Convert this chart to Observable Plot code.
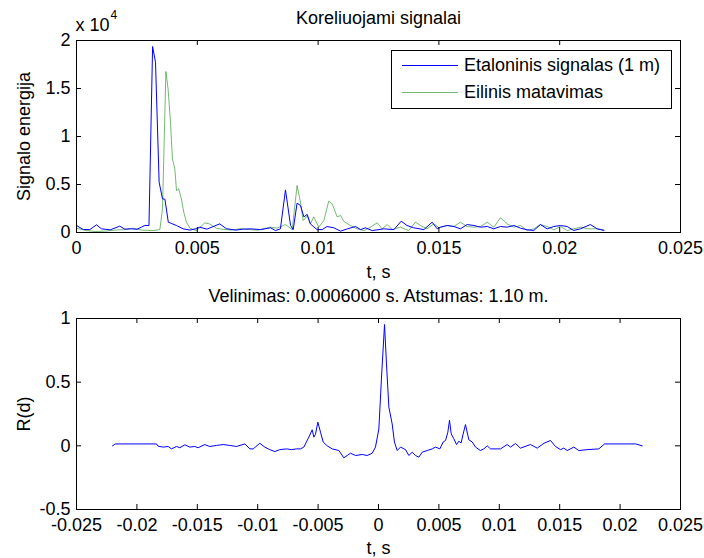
<!DOCTYPE html>
<html><head><meta charset="utf-8">
<script src="https://cdn.jsdelivr.net/npm/d3@7"></script>
<script src="https://cdn.jsdelivr.net/npm/@observablehq/plot@0.6"></script>
<style>
body{margin:0;background:#fff;}
#fig{position:relative;width:704px;height:558px;background:#fff;font-family:"Liberation Sans",Arial,Helvetica,sans-serif;color:#000;}
#fig svg{position:absolute;left:0;overflow:visible;}
#legend{position:absolute;left:391px;top:50px;width:279px;height:57px;border:1px solid #000;background:#fff;font-size:18px;}
.row{position:absolute;left:0;height:22px;display:flex;align-items:center;white-space:nowrap;}
.sw{width:56px;height:0;margin-left:10px;margin-right:6px;border-top:1px solid;}
</style></head>
<body><div id="fig"></div>
<script>
// ---- top chart data ----
const topTitle = "Koreliuojami signalai";
const topYLabel = "Signalo energija";
const xLabelText = "t, s";
const seriesNames = ["Etaloninis signalas (1 m)", "Eilinis matavimas"];
const topXTicks = [0, 0.005, 0.01, 0.015, 0.02, 0.025];
const topXTickLabels = ["0", "0.005", "0.01", "0.015", "0.02", "0.025"];
const topYTicks = [0, 5000, 10000, 15000, 20000];
const topYTickLabels = ["0", "0.5", "1", "1.5", "2"];

const blueT = [0,0.00028,0.00055,0.00083,0.00103,0.0014,0.00179,0.002,0.00228,0.0025,0.00269,0.00283,0.003,0.00315,0.00327,0.00342,0.00356,0.00366,0.0038,0.00394,0.00414,0.00441,0.0047,0.00496,0.0051,0.0054,0.00593,0.0062,0.0066,0.0069,0.0072,0.00762,0.00803,0.00824,0.00844,0.00865,0.00886,0.00897,0.00913,0.00927,0.00941,0.00955,0.00968,0.00982,0.00996,0.01017,0.01037,0.01065,0.01093,0.01121,0.01155,0.01176,0.01196,0.01224,0.01272,0.01314,0.01344,0.01368,0.01396,0.01438,0.01472,0.01493,0.01507,0.01534,0.01562,0.01589,0.01617,0.01645,0.01672,0.017,0.01727,0.01755,0.01783,0.0181,0.01838,0.01865,0.01893,0.0192,0.01948,0.01976,0.02003,0.02031,0.02058,0.02086,0.02127,0.02155,0.02183];
const blueV = [730,310,300,800,385,280,660,350,385,330,560,730,730,19375,17740,5240,3510,3470,1075,930,730,385,250,400,550,350,900,400,250,350,380,300,490,200,380,4440,730,300,3060,2810,1630,1880,900,590,300,300,625,490,140,380,625,300,490,200,380,300,1180,730,490,300,1075,380,555,730,625,385,830,730,555,625,385,625,555,730,450,280,210,830,385,625,730,625,210,385,830,385,210];

const greenT = [0,0.0004,0.0008,0.0012,0.0016,0.002,0.00235,0.0027,0.00317,0.00345,0.00356,0.0037,0.00379,0.00389,0.00397,0.00407,0.00414,0.00423,0.00434,0.00444,0.00455,0.0047,0.00496,0.00531,0.0055,0.00579,0.006,0.0064,0.0068,0.00717,0.0075,0.00803,0.0083,0.00865,0.00893,0.00913,0.00927,0.00938,0.00955,0.00968,0.00982,0.01003,0.01024,0.01044,0.01058,0.01079,0.01093,0.01107,0.01134,0.01162,0.0119,0.01217,0.01245,0.01265,0.01286,0.01307,0.01341,0.01375,0.01403,0.01424,0.01451,0.01479,0.015,0.01534,0.01562,0.01589,0.01617,0.01645,0.01672,0.017,0.01727,0.01755,0.01783,0.0181,0.01838,0.01865,0.01893,0.0192,0.01948,0.01976,0.02003,0.02031,0.02058,0.02086,0.02114,0.02155,0.02183];
const greenV = [450,200,100,150,250,300,450,250,200,300,2470,16770,14970,11490,7680,6640,4375,4550,3510,2115,1075,450,200,1000,900,450,350,250,400,300,250,560,450,830,300,4900,3160,1250,1720,900,1630,560,1250,3270,2990,1630,1770,1140,730,380,200,560,1010,380,830,300,560,200,1075,730,380,900,500,730,625,1075,625,555,625,1075,555,1530,900,555,730,210,385,830,625,280,625,210,385,555,385,385,280];

// ---- bottom chart data ----
const botTitle = "Velinimas: 0.0006000 s. Atstumas: 1.10 m.";
const botYLabel = "R(d)";
const botXTicks = [-0.025, -0.02, -0.015, -0.01, -0.005, 0, 0.005, 0.01, 0.015, 0.02, 0.025];
const botXTickLabels = ["-0.025", "-0.02", "-0.015", "-0.01", "-0.005", "0", "0.005", "0.01", "0.015", "0.02", "0.025"];
const botYTicks = [-0.5, 0, 0.5, 1];
const botYTickLabels = ["-0.5", "0", "0.5", "1"];

const corrT = [-0.02202,-0.02177,-0.01838,-0.01824,-0.01782,-0.01741,-0.01714,-0.01672,-0.01645,-0.01603,-0.01562,-0.01521,-0.01493,-0.01438,-0.01397,-0.01341,-0.01286,-0.01231,-0.01175,-0.01106,-0.01065,-0.01037,-0.00983,-0.00941,-0.009,-0.00858,-0.00817,-0.00762,-0.0072,-0.00679,-0.00646,-0.00618,-0.00577,-0.00549,-0.00535,-0.00522,-0.00502,-0.0048,-0.00458,-0.00425,-0.00383,-0.00328,-0.00287,-0.00259,-0.00232,-0.0019,-0.00135,-0.00094,-0.00052,-0.00025,0.00003,0.00025,0.0005,0.00066,0.00086,0.00113,0.00132,0.00155,0.00182,0.00224,0.00251,0.00279,0.00306,0.00334,0.00362,0.00403,0.00445,0.00472,0.00508,0.00535,0.00555,0.00574,0.00588,0.00602,0.00624,0.00646,0.00665,0.00684,0.00701,0.0072,0.00748,0.00776,0.00803,0.00844,0.00872,0.009,0.00927,0.0101,0.01065,0.01093,0.01134,0.01175,0.01258,0.01314,0.01369,0.01424,0.01465,0.01507,0.01534,0.01562,0.01617,0.01658,0.01727,0.01824,0.01871,0.0213,0.02183];
const corrV = [0,0.015,0.015,-0.003,-0.01,-0.005,-0.024,-0.005,-0.015,0.008,-0.01,-0.005,-0.015,0.01,-0.005,0.003,0.01,0.003,-0.005,0.015,-0.024,-0.024,0.02,-0.01,-0.03,-0.045,-0.03,-0.024,-0.03,-0.024,-0.024,-0.01,0.068,0.126,0.068,0.09,0.186,0.107,0.03,0,-0.024,-0.037,-0.094,-0.076,-0.058,-0.076,-0.068,-0.076,-0.058,-0.01,0.133,0.54,0.953,0.644,0.303,0.173,0.03,-0.037,-0.01,-0.03,-0.076,-0.05,-0.076,-0.089,-0.05,-0.037,-0.024,-0.01,-0.024,0.03,0.042,0.107,0.2,0.094,0.055,0.01,0.036,0.023,0.094,0.167,0.047,0.03,-0.01,-0.037,-0.024,0,-0.024,-0.024,0.01,-0.01,0.018,-0.018,0.01,-0.018,0.02,0.042,-0.005,-0.03,-0.018,-0.037,-0.01,-0.037,-0.03,-0.024,0.015,0.015,0];

// ---- build ----
const FONT = '"Liberation Sans", Arial, Helvetica, sans-serif';
const BLUE = "#0000ff", GREEN = "#008000";
const toRows = (T, V) => T.map((t, i) => ({t, v: V[i]}));

function boxMarks(xTicks, xLabels, yTicks, yLabels, fw, fh) {
  return [
    Plot.frame({stroke: "black", strokeWidth: 1}),
    Plot.tickX(xTicks, {x: d => d, insetTop: fh - 5, stroke: "black"}),
    Plot.tickX(xTicks, {x: d => d, insetBottom: fh - 5, stroke: "black"}),
    Plot.tickY(yTicks, {y: d => d, insetRight: fw - 5, stroke: "black"}),
    Plot.tickY(yTicks, {y: d => d, insetLeft: fw - 5, stroke: "black"}),
    Plot.axisX({ticks: xTicks, anchor: "bottom", tickSize: 0, tickPadding: 9, label: null,
      tickFormat: d => xLabels[xTicks.indexOf(d)]}),
    Plot.axisY({ticks: yTicks, anchor: "left", tickSize: 0, tickPadding: 6, label: null,
      tickFormat: d => yLabels[yTicks.indexOf(d)]})
  ];
}

const common = {width: 704, marginLeft: 76, marginRight: 24,
  style: {fontFamily: FONT, fontSize: "18px", color: "black", background: "transparent", overflow: "visible"}};

const topChart = Plot.plot({
  ...common, height: 280, marginTop: 40, marginBottom: 48,
  x: {domain: [0, 0.025]}, y: {domain: [0, 20000]},
  marks: [
    Plot.line(toRows(greenT, greenV), {x: "t", y: "v", stroke: GREEN, strokeOpacity: 0.55, strokeWidth: 1}),
    Plot.line(toRows(blueT, blueV), {x: "t", y: "v", stroke: BLUE, strokeWidth: 1}),
    ...boxMarks(topXTicks, topXTickLabels, topYTicks, topYTickLabels, 604, 192),
    Plot.text([topTitle], {text: d => d, frameAnchor: "top", lineAnchor: "middle", dy: -22}),
    Plot.text(["x 10"], {text: d => d, frameAnchor: "top-left", textAnchor: "start", lineAnchor: "middle", dy: -15, dx: -1}),
    Plot.text(["4"], {text: d => d, frameAnchor: "top-left", textAnchor: "start", lineAnchor: "middle", dy: -25, dx: 34, fontSize: 12}),
    Plot.text([topYLabel], {text: d => d, frameAnchor: "left", textAnchor: "middle", lineAnchor: "middle", dx: -52, rotate: -90}),
    Plot.text([xLabelText], {text: d => d, frameAnchor: "bottom", lineAnchor: "middle", dy: 40})
  ]
});

const botChart = Plot.plot({
  ...common, height: 278, marginTop: 38, marginBottom: 49,
  x: {domain: [-0.025, 0.025]}, y: {domain: [-0.5, 1]},
  marks: [
    Plot.line(toRows(corrT, corrV), {x: "t", y: "v", stroke: BLUE, strokeWidth: 1}),
    ...boxMarks(botXTicks, botXTickLabels, botYTicks, botYTickLabels, 604, 191),
    Plot.text([botTitle], {text: d => d, frameAnchor: "top", lineAnchor: "middle", dy: -22}),
    Plot.text([botYLabel], {text: d => d, frameAnchor: "left", textAnchor: "middle", lineAnchor: "middle", dx: -52, rotate: -90}),
    Plot.text([xLabelText], {text: d => d, frameAnchor: "bottom", lineAnchor: "middle", dy: 39})
  ]
});

const fig = document.getElementById("fig");
topChart.style.top = "0px";
botChart.style.top = "280px";
fig.appendChild(topChart);
fig.appendChild(botChart);

const legend = document.createElement("div");
legend.id = "legend";
[[BLUE, 1, seriesNames[0], 3], [GREEN, 0.55, seriesNames[1], 30]].forEach(([c, op, name, top]) => {
  const row = document.createElement("div");
  row.className = "row";
  row.style.top = top + "px";
  const sw = document.createElement("span");
  sw.className = "sw";
  sw.style.borderTopColor = c;
  sw.style.opacity = op;
  const tx = document.createElement("span");
  tx.textContent = name;
  row.appendChild(sw); row.appendChild(tx);
  legend.appendChild(row);
});
fig.appendChild(legend);
</script>
</body></html>
